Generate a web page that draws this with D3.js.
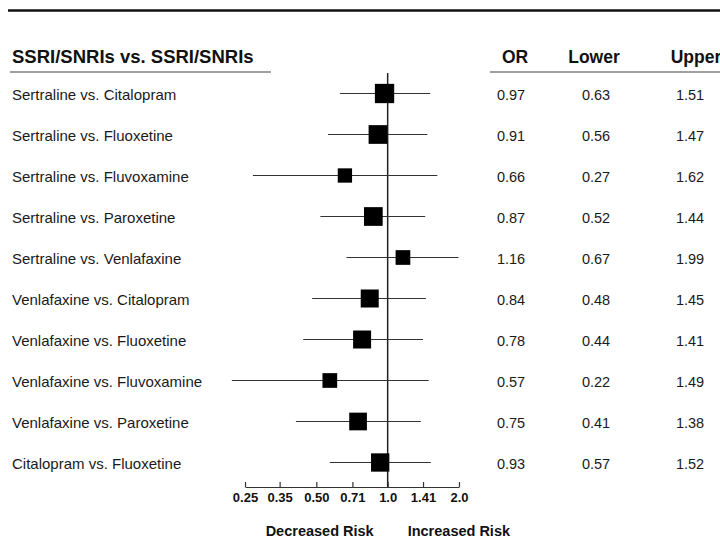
<!DOCTYPE html>
<html>
<head>
<meta charset="utf-8">
<script src="https://cdn.jsdelivr.net/npm/d3@7"></script>
<style>
  body { margin: 0; background: #fff; }
  svg { display: block; font-family: "Liberation Sans", Arial, Helvetica, sans-serif; }
</style>
</head>
<body>
<svg id="chart" width="720" height="546"></svg>
<script>
// comparaciones y valores
var comparisons = [
  "Sertraline vs. Citalopram",
  "Sertraline vs. Fluoxetine",
  "Sertraline vs. Fluvoxamine",
  "Sertraline vs. Paroxetine",
  "Sertraline vs. Venlafaxine",
  "Venlafaxine vs. Citalopram",
  "Venlafaxine vs. Fluoxetine",
  "Venlafaxine vs. Fluvoxamine",
  "Venlafaxine vs. Paroxetine",
  "Citalopram vs. Fluoxetine"
];
var orValues = [0.97, 0.91, 0.66, 0.87, 1.16, 0.84, 0.78, 0.57, 0.75, 0.93];
var lowerValues = [0.63, 0.56, 0.27, 0.52, 0.67, 0.48, 0.44, 0.22, 0.41, 0.57];
var upperValues = [1.51, 1.47, 1.62, 1.44, 1.99, 1.45, 1.41, 1.49, 1.38, 1.52];
// peso relativo (tamaño del cuadrado)
var weights = [100, 94, 55, 94, 58, 87, 87, 58, 84, 90];

var tickValues = [0.25, 0.35, 0.50, 0.71, 1.0, 1.41, 2.0];
var tickLabels = ["0.25", "0.35", "0.50", "0.71", "1.0", "1.41", "2.0"];

var svg = d3.select("#chart");

var x = d3.scaleLog().base(2).domain([0.25, 2]).range([245, 459]);
var y = d3.scaleBand().domain(d3.range(comparisons.length)).range([73, 483]);
var size = d3.scaleSqrt().domain([0, 100]).range([0, 19.3]);

function fmt(v) { return v.toFixed(2); }

// linea superior
svg.append("line")
  .attr("x1", 8).attr("x2", 720).attr("y1", 10.5).attr("y2", 10.5)
  .attr("stroke", "#111").attr("stroke-width", 2.6);

// encabezados
svg.append("text")
  .attr("x", 12).attr("y", 57).attr("dy", "0.35em")
  .attr("font-size", 18.5).attr("font-weight", "bold").attr("fill", "#111")
  .text("SSRI/SNRIs vs. SSRI/SNRIs");

var cols = [
  { name: "OR", hx: 515, nx: 511, vals: orValues },
  { name: "Lower", hx: 594, nx: 596, vals: lowerValues },
  { name: "Upper", hx: 696, nx: 690, vals: upperValues }
];

cols.forEach(function(c) {
  svg.append("text")
    .attr("x", c.hx).attr("y", 57).attr("dy", "0.35em")
    .attr("text-anchor", "middle")
    .attr("font-size", 17.5).attr("font-weight", "bold").attr("fill", "#111")
    .text(c.name);
});

svg.append("line")
  .attr("x1", 10).attr("x2", 271).attr("y1", 72).attr("y2", 72)
  .attr("stroke", "#a0a0a0").attr("stroke-width", 2);
svg.append("line")
  .attr("x1", 490).attr("x2", 720).attr("y1", 72).attr("y2", 72)
  .attr("stroke", "#a0a0a0").attr("stroke-width", 2);

// linea de referencia en 1
svg.append("line")
  .attr("x1", x(1)).attr("x2", x(1)).attr("y1", 73).attr("y2", 487)
  .attr("stroke", "#222").attr("stroke-width", 1.5);

var rows = svg.append("g").selectAll("g")
  .data(comparisons)
  .join("g")
  .attr("transform", function(d, i) { return "translate(0," + (y(i) + y.bandwidth() / 2) + ")"; });

rows.append("text")
  .attr("x", 12).attr("y", 1).attr("dy", "0.35em")
  .attr("font-size", 15).attr("fill", "#1a1a1a")
  .text(function(d) { return d; });

rows.append("line")
  .attr("x1", function(d, i) { return x(lowerValues[i]); })
  .attr("x2", function(d, i) { return x(upperValues[i]); })
  .attr("stroke", "#333").attr("stroke-width", 1.2);

rows.append("rect")
  .attr("x", function(d, i) { return x(orValues[i]) - size(weights[i]) / 2; })
  .attr("y", function(d, i) { return -size(weights[i]) / 2; })
  .attr("width", function(d, i) { return size(weights[i]); })
  .attr("height", function(d, i) { return size(weights[i]); })
  .attr("fill", "#000");

cols.forEach(function(c) {
  rows.append("text")
    .attr("x", c.nx).attr("y", 1).attr("dy", "0.35em")
    .attr("text-anchor", "middle")
    .attr("font-size", 14.5).attr("fill", "#1a1a1a")
    .text(function(d, i) { return fmt(c.vals[i]); });
});

// eje
var axis = d3.axisBottom(x)
  .tickValues(tickValues)
  .tickFormat(function(d, i) { return tickLabels[i]; })
  .tickSizeInner(-5)
  .tickSizeOuter(0)
  .tickPadding(6);

var gx = svg.append("g")
  .attr("transform", "translate(0,487)")
  .call(axis);
gx.select(".domain").attr("stroke", "#333").attr("stroke-width", 1.2);
gx.selectAll(".tick line").attr("stroke", "#333").attr("stroke-width", 1.2);
gx.selectAll(".tick text")
  .attr("font-size", 13).attr("font-weight", "bold").attr("fill", "#111")
  .attr("font-family", "'Liberation Sans', Arial, sans-serif");

svg.append("text")
  .attr("x", x(1) - 14).attr("y", 531).attr("dy", "0.35em")
  .attr("text-anchor", "end")
  .attr("font-size", 14.5).attr("font-weight", "bold").attr("fill", "#111")
  .text("Decreased Risk");
svg.append("text")
  .attr("x", x(1) + 20).attr("y", 531).attr("dy", "0.35em")
  .attr("font-size", 14.5).attr("font-weight", "bold").attr("fill", "#111")
  .text("Increased Risk");
</script>
</body>
</html>
